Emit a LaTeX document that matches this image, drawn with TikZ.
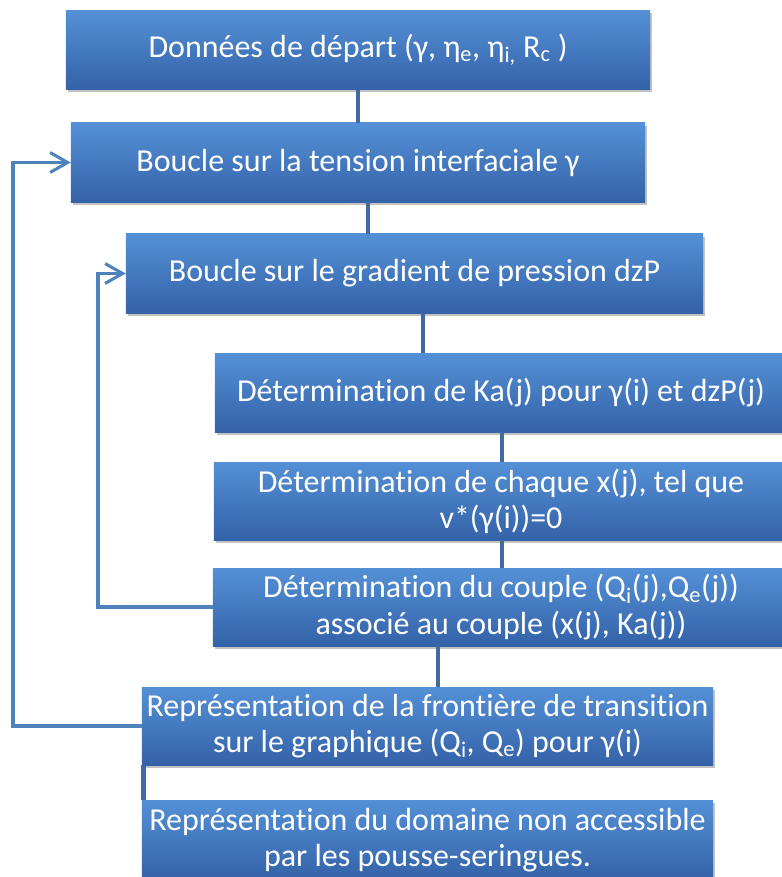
\documentclass[tikz,border=0pt]{standalone}
\usepackage{fontspec}
\setmainfont{Carlito}[Ligatures=NoCommon]
\usepackage{tikz}
\usetikzlibrary{arrows.meta, shadows}
\definecolor{box-top}{RGB}{84,144,214}
\definecolor{box-bottom}{RGB}{52,98,168}
\definecolor{link-blue}{RGB}{66,106,158}
\definecolor{loop-blue}{RGB}{79,129,189}

\begin{document}
\begin{tikzpicture}[x=0.03cm, y=-0.03cm,
  box/.style={shade, top color=box-top, bottom color=box-bottom, draw=none,
    minimum height=2.37cm, align=center, text=white, inner sep=2pt,
    font=\fontsize{27.3}{30.8}\selectfont,
    drop shadow={shadow xshift=1.5pt, shadow yshift=-2.5pt, opacity=0.35, fill=black!70}},
  link/.style={draw=link-blue, line width=4.2pt},
  back/.style={draw=loop-blue, line width=2.6pt, -{Straight Barb[length=15pt, width=17pt, line width=2.6pt]}},
]
  \useasboundingbox (0,0) rectangle (781,877);

  % Main chain
  \node[box, minimum width=17.52cm] (start) at (358,50) {Données de départ (γ, η\textsubscript{e}, η\textsubscript{i,} R\textsubscript{c} )};
  \node[box, minimum width=17.22cm] (gam) at (358,162.5) {Boucle sur la tension interfaciale γ};
  \node[box, minimum width=17.31cm] (dzp) at (414.5,273.5) {Boucle sur le gradient de pression dzP};
  \node[box, minimum width=17.16cm] (ka) at (501,392.5) {Détermination de Ka(j) pour γ(i) et dzP(j)};
  \node[box, minimum width=17.22cm, minimum height=2.34cm] (xj) at (501,501) {Détermination de chaque x(j), tel que\\v*(γ(i))=0};
  \node[box, minimum width=17.28cm, minimum height=2.34cm] (qq) at (501,607) {Détermination du couple (Q\textsubscript{i}(j),Q\textsubscript{e}(j))\\associé au couple (x(j), Ka(j))};
  \node[box, minimum width=17.13cm, minimum height=2.34cm] (front) at (427.5,726) {Représentation de la frontière de transition\\sur le graphique (Q\textsubscript{i}, Q\textsubscript{e}) pour γ(i)};
  \node[box, minimum width=17.13cm, minimum height=2.4cm] (dom) at (427.5,840) {Représentation du domaine non accessible\\par les pousse-seringues.};

  % Connectors
  \coordinate (c1) at (358,0);
  \coordinate (c2) at (368,0);
  \coordinate (c3) at (423,0);
  \coordinate (c4) at (502,0);
  \coordinate (c6) at (438,0);
  \draw[link] (start.south -| c1) -- (gam.north -| c1);
  \draw[link] (gam.south -| c2) -- (dzp.north -| c2);
  \draw[link] (dzp.south -| c3) -- (ka.north -| c3);
  \draw[link] (ka.south -| c4) -- (xj.north -| c4);
  \draw[link] (xj.south -| c4) -- (qq.north -| c4);
  \draw[link] (qq.south -| c6) -- (front.north -| c6);
  \draw[link] ([xshift=1.5pt]front.south west) -- ([xshift=1.5pt]dom.north west);

  % Loops
  \coordinate (outer) at (13,0);
  \coordinate (inner) at (98,0);
  \draw[back] (front.west) -- (front.west -| outer) |- (gam.west);
  \draw[back] (qq.west) -- (qq.west -| inner) |- (dzp.west);
\end{tikzpicture}
\end{document}
